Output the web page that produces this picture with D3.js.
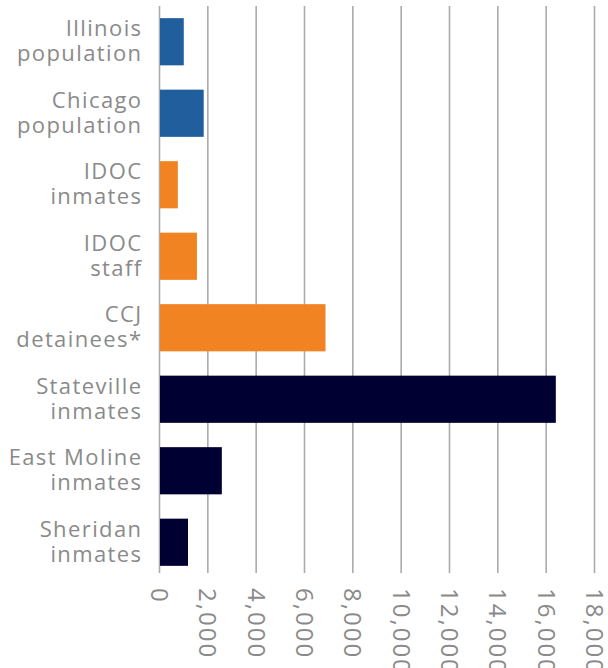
<!DOCTYPE html>
<html>
<head>
<meta charset="utf-8">
<script src="https://cdn.jsdelivr.net/npm/d3@7"></script>
<style>
  body { margin: 0; background: #fff; }
  svg text { font-family: "Open Sans", "Noto Sans", sans-serif; fill: #8a8a8a; }
</style>
</head>
<body>
<div id="chart"></div>
<script>
var categories = [
  ["Illinois", "population"],
  ["Chicago", "population"],
  ["IDOC", "inmates"],
  ["IDOC", "staff"],
  ["CCJ", "detainees*"],
  ["Stateville", "inmates"],
  ["East Moline", "inmates"],
  ["Sheridan", "inmates"]
];
var values = [1025, 1850, 780, 1570, 6890, 16420, 2600, 1200];
var groups = ["pop", "pop", "idoc", "idoc", "idoc", "prison", "prison", "prison"];
var tickValues = [0, 2000, 4000, 6000, 8000, 10000, 12000, 14000, 16000, 18000];

var colors = { pop: "#205e9d", idoc: "#f28322", prison: "#010033" };

var width = 608, height = 668;
var svg = d3.select("#chart").append("svg")
  .attr("width", width)
  .attr("height", height);

var x = d3.scaleLinear()
  .domain([0, 18000])
  .range([159, 594]);

var y = d3.scaleBand()
  .domain(d3.range(categories.length))
  .range([6, 578])
  .paddingInner(0.34)
  .paddingOuter(0.17);

// vertical gridlines + ticks
var xAxis = d3.axisBottom(x)
  .tickValues(tickValues)
  .tickFormat(d3.format(","))
  .tickSize(573 - 6)
  .tickPadding(0);

var ax = svg.append("g")
  .attr("transform", "translate(0,6)")
  .call(xAxis);
ax.select(".domain").remove();
ax.selectAll(".tick line")
  .attr("stroke", "#ababab")
  .attr("stroke-width", 1.6);
ax.selectAll(".tick text")
  .attr("transform", "translate(0," + (588 - 6) + ") rotate(90)")
  .attr("x", 0)
  .attr("y", 0)
  .attr("dy", "0.36em")
  .attr("text-anchor", "start")
  .style("font-size", "24px")
  .style("letter-spacing", "2px")
  .style("fill", "#8a8a8a");

// bars
svg.selectAll("rect.bar")
  .data(values)
  .enter()
  .append("rect")
  .attr("class", "bar")
  .attr("x", x(0) + 1)
  .attr("y", function(d, i) { return y(i); })
  .attr("width", function(d) { return x(d) - x(0) - 1; })
  .attr("height", y.bandwidth())
  .attr("fill", function(d, i) { return colors[groups[i]]; });

// category labels (two lines each)
var labels = svg.selectAll("text.cat")
  .data(categories)
  .enter()
  .append("text")
  .attr("class", "cat")
  .attr("text-anchor", "end")
  .style("font-size", "22px")
  .style("letter-spacing", "1.4px");

labels.each(function(d, i) {
  var cy = y(i) + y.bandwidth() / 2;
  var t = d3.select(this);
  t.append("tspan").attr("x", 142.5).attr("y", cy - 5.5).text(d[0]);
  t.append("tspan").attr("x", 142.5).attr("y", cy + 19.5).text(d[1]);
});
</script>
</body>
</html>
